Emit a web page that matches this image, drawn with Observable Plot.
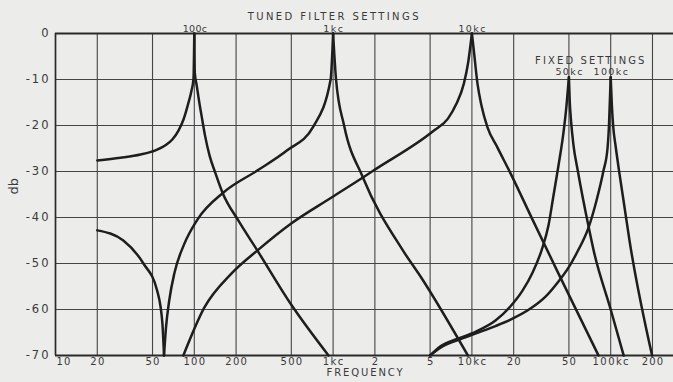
<!DOCTYPE html>
<html>
<head>
<meta charset="utf-8">
<script src="https://cdn.jsdelivr.net/npm/d3@7"></script>
<script src="https://cdn.jsdelivr.net/npm/@observablehq/plot@0.6"></script>
<style>
  html, body { margin: 0; padding: 0; background: #ececea; }
  #chart svg { display: block; }
</style>
</head>
<body>
<div id="chart"></div>
<script>
// ---------- axis ticks ----------
const xTicks = [10, 20, 50, 100, 200, 500, 1000, 2000, 5000, 10000, 20000, 50000, 100000, 200000];
const xTickLabels = ["10", "20", "50", "100", "200", "500", "1kc", "2", "5", "10kc", "20", "50", "100kc", "200"];
const yTicks = [0, -10, -20, -30, -40, -50, -60, -70];
const yTickLabels = ["0", "-10", "-20", "-30", "-40", "-50", "-60", "-70"];

// ---------- peak labels ----------
const tunedNames = ["100c", "1kc", "10kc"];
const tunedPeaks = [100, 1000, 10000];
const fixedNames = ["50kc", "100kc"];
const fixedPeaks = [50000, 100000];

// ---------- response curves (frequency in c/s, level in db) ----------
// Tuned 100c
const t100LowF  = [20, 29.4, 41, 52.5, 62, 69.7, 76.9, 83.6, 90.1, 95.5, 98.7, 100];
const t100LowDb = [-27.6, -27.0, -26.3, -25.4, -24.3, -23.0, -21.1, -18.7, -15.4, -12.4, -9.8, 0];
const t100HighF  = [100, 100.8, 104.1, 108.1, 112.7, 119.5, 128.7, 142.1, 159.7, 208, 285, 493, 927];
const t100HighDb = [0, -8.5, -11.3, -14.6, -17.8, -22.2, -26.5, -30.4, -34.6, -40.7, -47.2, -58.7, -70];

// Tuned 1kc (with a null near 60 c)
const t1kLowAF  = [20, 30.8, 43, 54, 58.9, 60.5];
const t1kLowADb = [-42.8, -45, -50, -55.9, -63, -70];
const t1kLowBF  = [60.5, 62.5, 66, 72, 84, 105, 163, 284, 467, 718, 960, 1000];
const t1kLowBDb = [-70, -64, -58, -52, -46, -40.5, -34.5, -29.8, -25.4, -20.3, -10, 0];
const t1kHighF  = [1000, 1050, 1200, 1640, 3190, 4300, 9350];
const t1kHighDb = [0, -10, -20, -31.3, -47.2, -53, -70];

// Tuned 10kc
const t10kLowF  = [83.4, 118, 185, 284, 499, 968, 1640, 2000, 5330, 6720, 7700, 8750, 9400, 10000];
const t10kLowDb = [-70, -59.6, -52.2, -47.2, -41.3, -35.7, -31.3, -29.6, -21.1, -18.5, -15.4, -10.9, -6.3, 0];
const t10kHighF  = [10000, 10350, 10970, 11730, 12950, 15290, 18980, 27790, 42060, 81680];
const t10kHighDb = [0, -4, -10.9, -15.7, -20.4, -24.8, -30.4, -40.9, -52.2, -70];

// Fixed 50kc
const f50LowF  = [5000, 5940, 8010, 10700, 14790, 18980, 23150, 27330, 31720, 35640, 38710, 42060, 45700, 48040, 50000];
const f50LowDb = [-70, -68.0, -66.3, -64.8, -62.4, -59.3, -55.9, -52.0, -47.2, -41.7, -35.2, -28.7, -21.5, -15.7, -9.5];
const f50HighF  = [50000, 50660, 51760, 53950, 57900, 69500, 75400, 100000, 124000];
const f50HighDb = [-9.5, -14.6, -18.9, -24.3, -29.8, -42.2, -47.2, -60, -70];

// Fixed 100kc
const f100LowF  = [5000, 5940, 8010, 10700, 14790, 18980, 26430, 33920, 42060, 49660, 57660, 69210, 79030, 88760, 94830, 97200, 100000];
const f100LowDb = [-70, -68.3, -66.6, -65.2, -63.6, -62.2, -59.8, -57.2, -53.9, -50.9, -47.4, -42.2, -36.3, -29.8, -25.0, -20.0, -9.5];
const f100HighF  = [100000, 102000, 104400, 108300, 114800, 123700, 136600, 198700];
const f100HighDb = [-9.5, -15.7, -20.4, -24.3, -29.8, -36.3, -45.0, -70];

// ---------- build table ----------
const branches = [
  ["100c", "low", t100LowF, t100LowDb],
  ["100c", "high", t100HighF, t100HighDb],
  ["1kc", "lowA", t1kLowAF, t1kLowADb],
  ["1kc", "lowB", t1kLowBF, t1kLowBDb],
  ["1kc", "high", t1kHighF, t1kHighDb],
  ["10kc", "low", t10kLowF, t10kLowDb],
  ["10kc", "high", t10kHighF, t10kHighDb],
  ["50kc", "low", f50LowF, f50LowDb],
  ["50kc", "high", f50HighF, f50HighDb],
  ["100kc", "low", f100LowF, f100LowDb],
  ["100kc", "high", f100HighF, f100HighDb]
];
const rows = branches.flatMap(([s, b, fs, dbs]) =>
  fs.map((f, i) => ({series: s, branch: s + "-" + b, f, db: dbs[i]})));

// ---------- layout ----------
const W = 673, H = 382;
const mLeft = 55, mTop = 33, mBottom = 27;
const pxPerDecade = 138.8;
const xMax = Math.pow(10, 1 + (W - mLeft) / pxPerDecade);

const ink = "#1e1e1e";
const textInk = "#3a3a3a";
const font = "DejaVu Sans, Verdana, sans-serif";

const TITLE = "TUNED FILTER SETTINGS";
const FIXED = "FIXED SETTINGS";
const XTITLE = "FREQUENCY";
const YTITLE = "db";

const chart = Plot.plot({
  width: W,
  height: H,
  marginLeft: mLeft,
  marginRight: 0,
  marginTop: mTop,
  marginBottom: mBottom,
  style: {background: "#ececea", fontFamily: font, overflow: "visible"},
  x: {type: "log", domain: [10, xMax], axis: null},
  y: {domain: [-70, 0], axis: null},
  marks: [
    // grid
    Plot.ruleX(xTicks.filter(v => v > 10), {stroke: "#454545", strokeWidth: 1.1}),
    Plot.ruleY(yTicks.filter(v => v < 0 && v > -70), {stroke: "#454545", strokeWidth: 1.1}),
    // frame
    Plot.ruleY([0, -70], {stroke: "#2a2a2a", strokeWidth: 1.8}),
    Plot.ruleX([10], {stroke: "#2a2a2a", strokeWidth: 1.7}),
    // curves
    Plot.line(rows, {
      x: "f", y: "db", z: "branch", curve: "monotone-x",
      stroke: ink, strokeWidth: 2.5, strokeLinejoin: "round", strokeLinecap: "round"
    }),
    // y tick labels
    Plot.text(yTicks, {
      y: d => d, frameAnchor: "left", dx: -5, textAnchor: "end",
      text: (d, i) => yTickLabels[i], fontSize: 11.5, fill: textInk
    }),
    // x tick labels (first one sits just inside the frame)
    Plot.text(xTicks.slice(0, 1), {
      x: d => d, frameAnchor: "bottom", dy: 9, dx: 1, textAnchor: "start",
      text: (d, i) => xTickLabels[i], fontSize: 10, fill: textInk
    }),
    Plot.text(xTicks.slice(1), {
      x: d => d, frameAnchor: "bottom", dy: 9, dx: 0.6,
      text: (d, i) => xTickLabels[i + 1], fontSize: 10, fill: textInk
    }),
    // axis titles
    Plot.text([XTITLE], {
      frameAnchor: "bottom", dy: 20, dx: 1, text: d => d, fontSize: 10, fill: textInk
    }),
    Plot.text([YTITLE], {
      frameAnchor: "left", dx: -42, rotate: -90, text: d => d, fontSize: 13, fill: textInk
    }),
    // tuned filter labels
    Plot.text([TITLE], {
      x: tunedPeaks[1], frameAnchor: "top", dy: -21, dx: 1.2, text: d => d,
      fontSize: 10, fill: textInk
    }),
    Plot.text(tunedPeaks, {
      x: d => d, frameAnchor: "top", dy: -8, dx: 0.7, text: (d, i) => tunedNames[i],
      fontSize: 9.5, fill: textInk
    }),
    // fixed settings labels
    Plot.text([FIXED], {
      x: Math.sqrt(fixedPeaks[0] * fixedPeaks[1]), y: -10, dy: -19, dx: 1, text: d => d,
      fontSize: 10, fill: textInk
    }),
    Plot.text(fixedPeaks, {
      x: d => d, y: -10, dy: -8, dx: 0.7, text: (d, i) => fixedNames[i],
      fontSize: 9.5, fill: textInk
    })
  ]
});

// widen the lettering to match the drafted (stencil-style) text
d3.select(chart).selectAll("text").each(function () {
  const t = this.textContent;
  let ls = 1.2;
  if (t === TITLE) ls = 2.4;
  else if (t === FIXED) ls = 2.1;
  else if (t === XTITLE) ls = 1.9;
  else if (t === YTITLE) ls = 0;
  else if (yTickLabels.includes(t)) ls = 2;
  else if (t === "100c") ls = 0.3;
  else if (t.endsWith("kc")) ls = 1.4;
  this.style.letterSpacing = ls + "px";
});

document.getElementById("chart").appendChild(chart);
</script>
</body>
</html>
